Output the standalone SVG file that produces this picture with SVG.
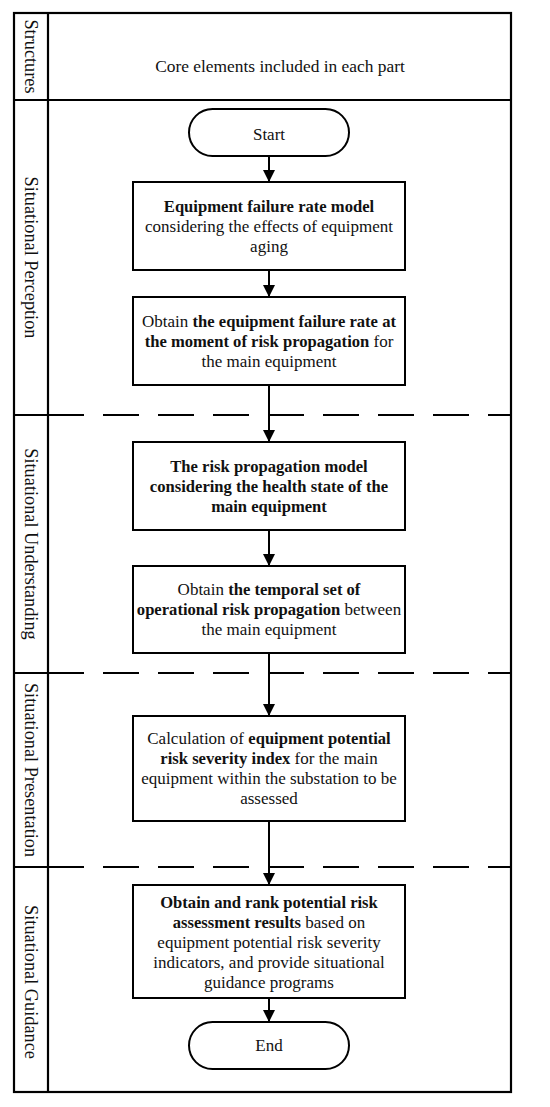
<svg xmlns="http://www.w3.org/2000/svg" width="550" height="1107" viewBox="0 0 550 1107">
<style>
.frame{fill:none;stroke:#000;stroke-width:2.2}
.box{fill:#fff;stroke:#000;stroke-width:2}
.dash{fill:none;stroke:#000;stroke-width:2;stroke-dasharray:36 19}
.conn{fill:none;stroke:#000;stroke-width:2}
text{font-family:"Liberation Serif","Times New Roman",serif;font-size:17px;fill:#111;text-anchor:middle}
.b{font-weight:bold;font-size:16.6px}
.lab{font-size:18.3px}
.hdr{font-size:17.4px}
</style>
<defs>
<marker id="ah" markerWidth="12" markerHeight="12" refX="12" refY="6" orient="auto" markerUnits="userSpaceOnUse">
<path d="M0,0 L12,6 L0,12 Z" fill="#000"/>
</marker>
</defs>
<rect x="0" y="0" width="550" height="1107" fill="#fff"/>
<g id="frame">
<rect class="frame" x="14" y="13" width="497" height="1079"/>
<line class="frame" x1="48" y1="13" x2="48" y2="1092"/>
<line class="frame" x1="14" y1="100" x2="511" y2="100"/>
<line class="frame" x1="14" y1="415" x2="48" y2="415"/>
<line class="frame" x1="14" y1="673" x2="48" y2="673"/>
<line class="frame" x1="14" y1="867" x2="48" y2="867"/>
<line class="dash" x1="48" y1="415" x2="511" y2="415"/>
<line class="dash" x1="48" y1="673" x2="511" y2="673"/>
<line class="dash" x1="48" y1="867" x2="511" y2="867"/>
</g>
<g id="lane-labels">
<text class="lab" transform="translate(31,56.5) rotate(90)" dy="6">Structures</text>
<text class="lab" transform="translate(31,257.5) rotate(90)" dy="6">Situational Perception</text>
<text class="lab" transform="translate(31,544) rotate(90)" dy="6">Situational Understanding</text>
<text class="lab" transform="translate(31,770) rotate(90)" dy="6">Situational Presentation</text>
<text class="lab" transform="translate(31,982) rotate(90)" dy="6">Situational Guidance</text>
<text class="hdr" x="280" y="72">Core elements included in each part</text>
</g>
<g id="connectors">
<line class="conn" x1="269" y1="156" x2="269" y2="182" marker-end="url(#ah)"/>
<line class="conn" x1="269" y1="270" x2="269" y2="297" marker-end="url(#ah)"/>
<line class="conn" x1="269" y1="385" x2="269" y2="442" marker-end="url(#ah)"/>
<line class="conn" x1="269" y1="530" x2="269" y2="566" marker-end="url(#ah)"/>
<line class="conn" x1="269" y1="653" x2="269" y2="716" marker-end="url(#ah)"/>
<line class="conn" x1="269" y1="821" x2="269" y2="885" marker-end="url(#ah)"/>
<line class="conn" x1="269" y1="998" x2="269" y2="1022" marker-end="url(#ah)"/>
</g>
<g id="start">
<rect class="box" x="189" y="109" width="160" height="47" rx="23.5"/>
<text x="269" y="140">Start</text>
</g>
<g id="box1">
<rect class="box" x="133" y="182" width="272" height="88"/>
<text x="269" y="212"><tspan class="b">Equipment failure rate model</tspan></text>
<text x="269" y="232">considering the effects of equipment</text>
<text x="269" y="252">aging</text>
</g>
<g id="box2">
<rect class="box" x="133" y="297" width="272" height="88"/>
<text x="269" y="327">Obtain <tspan class="b">the equipment failure rate at</tspan></text>
<text x="269" y="347"><tspan class="b">the moment of risk propagation</tspan> for</text>
<text x="269" y="367">the main equipment</text>
</g>
<g id="box3">
<rect class="box" x="133" y="442" width="272" height="88"/>
<text x="269" y="472" class="b">The risk propagation model</text>
<text x="269" y="492" class="b">considering the health state of the</text>
<text x="269" y="512" class="b">main equipment</text>
</g>
<g id="box4">
<rect class="box" x="133" y="566" width="272" height="87"/>
<text x="269" y="595">Obtain <tspan class="b">the temporal set of</tspan></text>
<text x="269" y="615"><tspan class="b">operational risk propagation</tspan> between</text>
<text x="269" y="635">the main equipment</text>
</g>
<g id="box5">
<rect class="box" x="133" y="716" width="272" height="105"/>
<text x="269" y="744">Calculation of <tspan class="b">equipment potential</tspan></text>
<text x="269" y="764"><tspan class="b">risk severity index</tspan> for the main</text>
<text x="269" y="784">equipment within the substation to be</text>
<text x="269" y="804">assessed</text>
</g>
<g id="box6">
<rect class="box" x="133" y="885" width="272" height="113"/>
<text x="269" y="908" class="b">Obtain and rank potential risk</text>
<text x="269" y="928"><tspan class="b">assessment results</tspan> based on</text>
<text x="269" y="948">equipment potential risk severity</text>
<text x="269" y="968">indicators, and provide situational</text>
<text x="269" y="988">guidance programs</text>
</g>
<g id="end">
<rect class="box" x="189" y="1022" width="160" height="47" rx="23.5"/>
<text x="269" y="1051">End</text>
</g>
</svg>
